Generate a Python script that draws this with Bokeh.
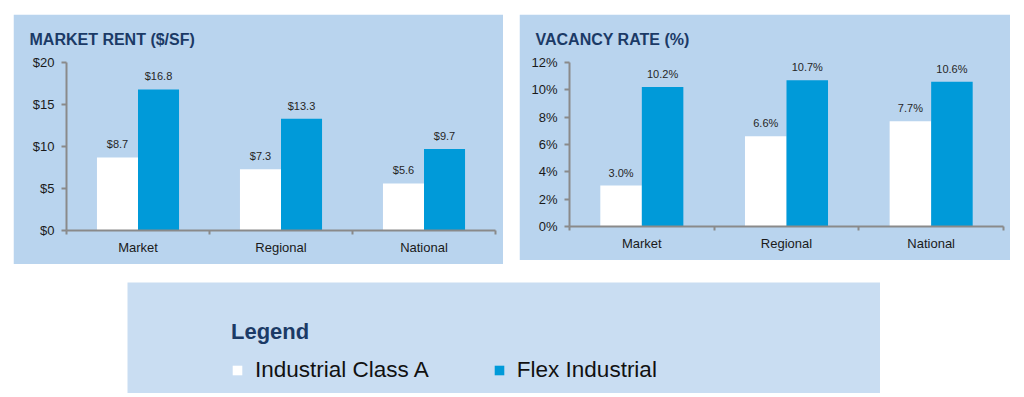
import numpy as np
from bokeh.plotting import figure
from bokeh.models import (Range1d, FixedTicker, PrintfTickFormatter, Legend, LegendItem,
                          ColumnDataSource)
from bokeh.layouts import column, row, Spacer
from bokeh.embed import file_html
from bokeh.resources import INLINE
from bokeh.core.properties import value

# ---------------- data ----------------
categories = ["Market", "Regional", "National"]
series_names = ["Industrial Class A", "Flex Industrial"]
rent_class_a = [8.7, 7.3, 5.6]
rent_flex = [16.8, 13.3, 9.7]
vacancy_class_a = [3.0, 6.6, 7.7]
vacancy_flex = [10.2, 10.7, 10.6]
rent_ticks = [0, 5, 10, 15, 20]
vacancy_ticks = [0, 2, 4, 6, 8, 10, 12]

# ---------------- style ----------------
FONT = "Liberation Sans"
PANEL_BG = "#b9d4ee"
LEGEND_BG = "#c9ddf2"
WHITE_BAR = "#ffffff"
BLUE_BAR = "#009ad9"
TITLE_COLOR = "#1b3a66"
AXIS_COLOR = "#8a8a8a"
TEXT_COLOR = "#1a1a1a"
BAR_W = 0.287


def make_chart(title, ys_a, ys_b, ticks, tick_fmt, lab_fmt, w, h, bl, br, bt, bb):
    n = len(categories)
    centers = np.arange(n) + 0.5
    p = figure(width=w, height=h, output_backend="svg", toolbar_location=None,
               x_range=Range1d(0, n), y_range=Range1d(ticks[0], ticks[-1]),
               min_border_left=bl, min_border_right=br, min_border_top=bt, min_border_bottom=bb)
    p.background_fill_color = PANEL_BG
    p.border_fill_color = PANEL_BG
    p.outline_line_color = PANEL_BG
    p.outline_line_width = 2
    p.grid.visible = False

    p.title.text = title
    p.title.align = "left"
    p.title.vertical_align = "top"
    p.title.offset = -(bl - 16)
    p.title.standoff = 26
    p.title.text_font = FONT
    p.title.text_font_size = "16px"
    p.title.text_font_style = "bold"
    p.title.text_color = TITLE_COLOR

    src = ColumnDataSource(dict(
        xa=centers - BAR_W / 2, xb=centers + BAR_W / 2, ya=ys_a, yb=ys_b,
        la=[lab_fmt % v for v in ys_a], lb=[lab_fmt % v for v in ys_b]))
    p.vbar(x="xa", top="ya", width=BAR_W, source=src, fill_color=WHITE_BAR, line_color=None)
    p.vbar(x="xb", top="yb", width=BAR_W, source=src, fill_color=BLUE_BAR, line_color=None)
    for xf, yf, lf_ in (("xa", "ya", "la"), ("xb", "yb", "lb")):
        p.text(x=xf, y=yf, text=lf_, source=src, y_offset=-7, text_align="center",
               text_baseline="bottom", text_font=value(FONT), text_font_size="11px",
               text_color="#262626")

    # x axis: labels at category centres, tick marks at boundaries
    xa = p.xaxis[0]
    xa.ticker = FixedTicker(ticks=list(centers), minor_ticks=list(range(n + 1)))
    xa.major_label_overrides = {float(c): cat for c, cat in zip(centers, categories)}
    xa.major_tick_line_color = None
    xa.major_tick_out = 0
    xa.major_tick_in = 0
    xa.minor_tick_line_color = AXIS_COLOR
    xa.minor_tick_line_width = 2
    xa.minor_tick_out = 4
    xa.minor_tick_in = 0
    xa.major_label_standoff = 5

    ya = p.yaxis[0]
    ya.ticker = FixedTicker(ticks=ticks)
    ya.formatter = PrintfTickFormatter(format=tick_fmt)
    ya.major_tick_line_color = AXIS_COLOR
    ya.major_tick_line_width = 2
    ya.major_tick_out = 5
    ya.major_tick_in = 0
    ya.minor_tick_line_color = None
    ya.major_label_standoff = 7

    for ax in (xa, ya):
        ax.axis_line_color = AXIS_COLOR
        ax.axis_line_width = 2
        ax.major_label_text_font = FONT
        ax.major_label_text_font_size = "13px"
        ax.major_label_text_color = TEXT_COLOR
    return p


p1 = make_chart("MARKET RENT ($/SF)", rent_class_a, rent_flex, rent_ticks, "$%d", "$%.1f",
                490, 250, 53, 8, 48, 34)
p2 = make_chart("VACANCY RATE (%)", vacancy_class_a, vacancy_flex, vacancy_ticks, "%d%%", "%.1f%%",
                491, 246, 50, 7, 48, 30)

# ---------------- legend panel ----------------
lf = figure(width=753, height=111, output_backend="svg", toolbar_location=None,
            x_range=Range1d(0, 1), y_range=Range1d(0, 1), min_border=0)
lf.axis.visible = False
lf.grid.visible = False
lf.outline_line_color = None
lf.background_fill_color = LEGEND_BG
lf.border_fill_color = LEGEND_BG
# swatch renderers (kept outside the visible range; only used by the legend)
ra = lf.vbar(x=[5], top=[5], width=0.1, fill_color=WHITE_BAR, line_color=None)
rb = lf.vbar(x=[5], top=[5], width=0.1, fill_color=BLUE_BAR, line_color=None)
leg = Legend(items=[LegendItem(label=series_names[0], renderers=[ra]),
                    LegendItem(label=series_names[1], renderers=[rb])],
             orientation="horizontal", location=(104, 10),
             title="Legend", title_text_font=FONT, title_text_font_size="22px",
             title_text_font_style="bold", title_text_color=TITLE_COLOR,
             title_standoff=12,
             label_text_font=FONT, label_text_font_size="22.5px", label_text_color="#111111",
             glyph_width=12, glyph_height=12, label_standoff=12, spacing=64,
             padding=0, margin=0, border_line_color=None, background_fill_alpha=0)
lf.add_layout(leg)

layout = column(Spacer(height=14),
                row(Spacer(width=13), p1, Spacer(width=16), p2),
                Spacer(height=18),
                row(Spacer(width=127), lf))

open("out.html", "w").write(file_html(layout, INLINE))
